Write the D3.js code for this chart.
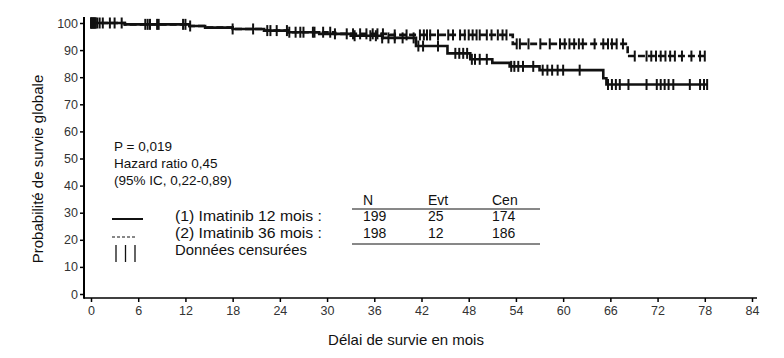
<!DOCTYPE html>
<html><head><meta charset="utf-8">
<script src="https://cdn.jsdelivr.net/npm/d3@7"></script>
<style>body{margin:0;background:#fff} text{font-family:"Liberation Sans",Arial,sans-serif}</style>
</head><body><svg id="c" width="784" height="358"></svg>
<script>
// ---------- data ----------
const xTicks = [0,6,12,18,24,30,36,42,48,54,60,66,72,78,84];
const yTicks = [0,10,20,30,40,50,60,70,80,90,100];
const xLabel = "Délai de survie en mois";
const yLabel = "Probabilité de survie globale";
const statLines = ["P = 0,019", "Hazard ratio 0,45", "(95% IC, 0,22-0,89)"];
const tableHeaders = ["N", "Evt", "Cen"];
const groupNames = ["(1) Imatinib 12 mois :", "(2) Imatinib 36 mois :"];
const censorLabel = "Données censurées";
const tableN = [199, 198];
const tableEvt = [25, 12];
const tableCen = [174, 186];

// group 1 (12 months, solid) step curve
const g1Times = [0, 4.3, 12.5, 14.5, 18, 22, 25, 29, 33, 37, 41.3, 45.3, 48.2, 51, 53.2, 57, 65.1, 65.5];
const g1Surv  = [100, 99.5, 98.9, 98.3, 97.8, 97.2, 96.6, 96.0, 95.3, 94.5, 91.5, 88.8, 86.6, 85.3, 84.0, 82.6, 79.6, 77.3];
const g1End = 78.3;
const g1Censor = [0, 0.15, 0.3, 0.45, 0.6, 1.1, 2.4, 3.9, 7.2, 8.6, 12.0, 18.0, 22.8, 25.2, 26.6, 28.4, 31.0, 33.5,
  35.5, 36.2, 37.0, 37.8, 38.6, 39.6, 41.0, 41.6, 42.2, 44.1, 46.3, 46.8, 47.3, 47.8, 48.4, 48.8, 49.4, 50.3,
  53.4, 53.8, 54.3, 54.9, 56.2, 57.4, 58.0, 58.6, 59.3, 60.0, 62.1, 65.7, 66.2, 66.7, 67.2, 68.3, 70.6,
  71.9, 72.4, 72.9, 73.4, 74.0, 76.1, 77.4, 77.9, 78.3];

// group 2 (36 months, dashed) step curve
const g2Times = [0, 4.3, 12.5, 14.5, 18, 22, 25, 31, 38, 53.6, 68.2];
const g2Surv  = [100, 99.5, 98.9, 98.3, 97.8, 97.2, 96.6, 96.0, 95.6, 92.3, 87.8];
const g2End = 78.2;
const g2Censor = [0, 0.1, 0.25, 0.4, 0.55, 0.8, 1.5, 3.0, 6.9, 7.5, 8.4, 11.7, 12.6, 20.6, 22.4, 23.6, 24.9, 26.0,
  27.0, 28.2, 29.5, 30.4, 32.5, 33.3, 34.2, 35.0, 35.8, 36.4, 37.1, 38.6, 40.1, 41.8, 42.3, 42.7, 43.1, 44.1,
  45.4, 46.0, 46.9, 47.5, 48.0, 48.5, 49.0, 49.4, 50.3, 50.9, 51.7, 52.3, 52.8, 54.1, 54.5, 55.6, 57.1, 58.3,
  59.6, 60.2, 60.8, 61.4, 62.0, 62.5, 64.0, 65.1, 65.7, 66.2, 66.8, 67.6, 69.1, 70.6, 71.2, 71.8, 72.4, 73.0,
  73.6, 74.2, 75.1, 76.3, 77.4, 78.0];

// ---------- drawing ----------
const svg = d3.select("#c");
const x = d3.scaleLinear().domain([0, 84]).range([91, 752]);
const y = d3.scaleLinear().domain([0, 100]).range([294, 23]);
const axisY0 = 298, axisX0 = 84;
const ink = "#111";

// axes
const xAxis = svg.append("g").attr("transform", `translate(0,${axisY0})`)
  .call(d3.axisBottom(x).tickValues(xTicks).tickSize(4).tickPadding(4).tickSizeOuter(0));
const yAxis = svg.append("g").attr("transform", `translate(${axisX0},0)`)
  .call(d3.axisLeft(y).tickValues(yTicks).tickSize(4).tickPadding(2).tickSizeOuter(0));
[xAxis, yAxis].forEach(a => {
  a.select(".domain").remove();
  a.selectAll(".tick line").attr("stroke", "#000").attr("stroke-width", 1.5);
  a.selectAll(".tick text").attr("fill", "#333").style("font-size", "12.5px")
    .style("font-family", '"Liberation Sans",Arial,sans-serif');
});
svg.append("line").attr("x1", axisX0).attr("x2", axisX0).attr("y1", 17).attr("y2", axisY0 + 0.75)
  .attr("stroke", "#000").attr("stroke-width", 2);
svg.append("line").attr("x1", axisX0).attr("x2", 757).attr("y1", axisY0).attr("y2", axisY0)
  .attr("stroke", "#000").attr("stroke-width", 1.5);

// axis titles
svg.append("text").attr("x", 406).attr("y", 345).attr("text-anchor", "middle")
  .style("font-size", "15px").attr("fill", ink).text(xLabel);
svg.append("text").attr("transform", "translate(43,169) rotate(-90)").attr("text-anchor", "middle")
  .style("font-size", "15px").attr("fill", ink).text(yLabel);

// curves
function stepPoints(times, surv, end) {
  const pts = times.map((t, i) => [t, surv[i]]);
  pts.push([end, surv[surv.length - 1]]);
  return pts;
}
function survAt(times, surv, t) {
  let s = surv[0];
  for (let i = 0; i < times.length; i++) if (times[i] <= t) s = surv[i];
  return s;
}
const line = d3.line().x(d => x(d[0])).y(d => y(d[1])).curve(d3.curveStepAfter);

const groups = [
  {times: g2Times, surv: g2Surv, end: g2End, cens: g2Censor, dash: "7,3"},
  {times: g1Times, surv: g1Surv, end: g1End, cens: g1Censor, dash: null}
];
groups.forEach(g => {
  svg.append("path").attr("d", line(stepPoints(g.times, g.surv, g.end)))
    .attr("fill", "none").attr("stroke", ink).attr("stroke-width", 2.6)
    .attr("stroke-dasharray", g.dash);
  svg.append("g").selectAll("line").data(g.cens).join("line")
    .attr("x1", d => x(d)).attr("x2", d => x(d))
    .attr("y1", d => y(survAt(g.times, g.surv, d)) - 5.5)
    .attr("y2", d => y(survAt(g.times, g.surv, d)) + 5.5)
    .attr("stroke", ink).attr("stroke-width", 2);
});

// stats text
svg.append("g").selectAll("text").data(statLines).join("text")
  .attr("x", 114).attr("y", (d, i) => 151 + i * 17)
  .style("font-size", "13.5px").attr("fill", ink).text(d => d);

// legend
svg.append("line").attr("x1", 112).attr("x2", 143).attr("y1", 219).attr("y2", 219)
  .attr("stroke", ink).attr("stroke-width", 2);
svg.append("line").attr("x1", 112).attr("x2", 137).attr("y1", 237).attr("y2", 237)
  .attr("stroke", ink).attr("stroke-width", 1).attr("stroke-dasharray", "3,2");
[116, 125.5, 135].forEach(cx => svg.append("line").attr("x1", cx).attr("x2", cx)
  .attr("y1", 245).attr("y2", 262).attr("stroke", ink).attr("stroke-width", 1.3));
const legWidths = [147, 147, 132];
svg.append("g").selectAll("text").data([...groupNames, censorLabel]).join("text")
  .attr("x", 175).attr("y", (d, i) => 221 + i * 17)
  .attr("textLength", (d, i) => legWidths[i]).attr("lengthAdjust", "spacingAndGlyphs")
  .style("font-size", "14px").attr("fill", ink).text(d => d);

// table
const colX = [363, 428, 492];
svg.append("g").selectAll("text").data(tableHeaders).join("text")
  .attr("x", (d, i) => colX[i]).attr("y", 205).style("font-size", "14px").attr("fill", ink).text(d => d);
[0, 1].forEach(r => {
  svg.append("g").selectAll("text").data([tableN[r], tableEvt[r], tableCen[r]]).join("text")
    .attr("x", (d, i) => colX[i]).attr("y", 221 + r * 17)
    .style("font-size", "14px").attr("fill", ink).text(d => d);
});
[209, 244].forEach(yy => svg.append("line").attr("x1", 352).attr("x2", 540).attr("y1", yy).attr("y2", yy)
  .attr("stroke", ink).attr("stroke-width", 1));
</script></body></html>
